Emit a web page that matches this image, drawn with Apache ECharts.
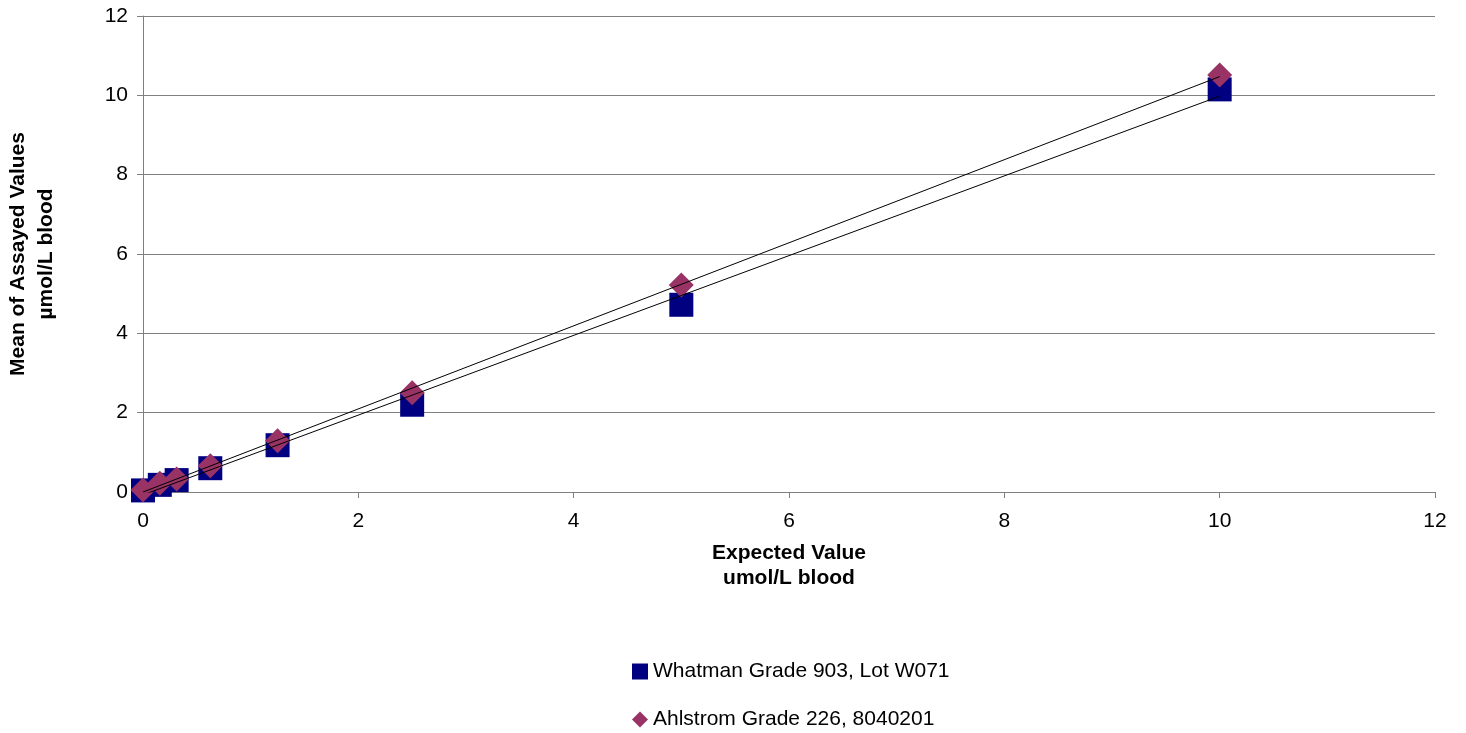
<!DOCTYPE html>
<html><head><meta charset="utf-8">
<script src="https://cdn.jsdelivr.net/npm/echarts@6/dist/echarts.min.js"></script>
<style>html,body{margin:0;padding:0;background:#fff}#c{width:1466px;height:733px}</style>
</head><body><div id="c"></div>
<script>
var expected = [0, 0.156, 0.3125, 0.625, 1.25, 2.5, 5, 10];
var whatman = [0.04, 0.18, 0.30, 0.60, 1.18, 2.20, 4.72, 10.15];
var ahlstrom = [0.05, 0.22, 0.33, 0.66, 1.29, 2.50, 5.22, 10.51];
var seriesNames = ['Whatman Grade 903, Lot W071', 'Ahlstrom Grade 226, 8040201'];
var axisTicks = [0, 2, 4, 6, 8, 10, 12];

function fit(xs, ys) {
  var n = xs.length, sx = 0, sy = 0, sxx = 0, sxy = 0;
  for (var i = 0; i < n; i++) { sx += xs[i]; sy += ys[i]; sxx += xs[i]*xs[i]; sxy += xs[i]*ys[i]; }
  var b = (n*sxy - sx*sy) / (n*sxx - sx*sx), a = (sy - b*sx)/n;
  var x0 = xs[0], x1 = xs[n-1];
  return [[x0, a + b*x0], [x1, a + b*x1]];
}
function pairs(xs, ys){ return xs.map(function(x,i){return [x, ys[i]];}); }

var chart = echarts.init(document.getElementById('c'), null, {renderer:'canvas'});
var font = 'Liberation Sans, Arial, sans-serif';
chart.setOption({
  animation: false,
  grid: {left: 143, right: 31, top: 16, bottom: 241, containLabel: false, outerBoundsMode: 'none'},
  xAxis: {
    type: 'value', min: axisTicks[0], max: axisTicks[axisTicks.length-1], interval: 2,
    axisLine: {show: true, onZero: false, lineStyle: {color: '#808080', width: 1}},
    axisTick: {show: true, length: 6, lineStyle: {color: '#808080'}},
    axisLabel: {color: '#000', fontSize: 21, fontFamily: font, margin: 19},
    splitLine: {show: false},
    name: 'Expected Value\numol/L blood', nameLocation: 'middle', nameGap: 49,
    nameTextStyle: {color: '#000', fontSize: 21, fontWeight: 'bold', fontFamily: font, lineHeight: 25}
  },
  yAxis: {
    type: 'value', min: axisTicks[0], max: axisTicks[axisTicks.length-1], interval: 2,
    axisLine: {show: true, lineStyle: {color: '#808080', width: 1}},
    axisTick: {show: true, length: 6, lineStyle: {color: '#808080'}},
    axisLabel: {color: '#000', fontSize: 21, fontFamily: font, margin: 15},
    splitLine: {show: true, lineStyle: {color: '#808080', width: 1}},
    name: 'Mean of Assayed Values\nµmol/L blood', nameLocation: 'middle', nameGap: 83,
    nameTextStyle: {color: '#000', fontSize: 21, fontWeight: 'bold', fontFamily: font, lineHeight: 28}
  },
  legend: {
    orient: 'vertical', left: 632, top: 661, itemGap: 27, itemWidth: 16, itemHeight: 16,
    padding: 0, itemStyle: {borderWidth: 0},
    textStyle: {color: '#000', fontSize: 21, fontFamily: font},
    data: [{name: seriesNames[0], icon: 'rect'},
           {name: seriesNames[1], icon: 'diamond'}]
  },
  series: [
    {name: seriesNames[0], type: 'scatter', symbol: 'rect', symbolSize: 24,
     itemStyle: {color: '#000080', opacity: 1}, data: pairs(expected, whatman), z: 2},
    {name: seriesNames[1], type: 'scatter', symbol: 'diamond', symbolSize: 25,
     itemStyle: {color: '#993366', opacity: 1}, data: pairs(expected, ahlstrom), z: 3},
    {name: 'fitW', type: 'line', data: fit(expected, whatman), symbol: 'none',
     lineStyle: {color: '#000', width: 1}, z: 5, silent: true},
    {name: 'fitA', type: 'line', data: fit(expected, ahlstrom), symbol: 'none',
     lineStyle: {color: '#000', width: 1}, z: 5, silent: true}
  ]
});
</script></body></html>
